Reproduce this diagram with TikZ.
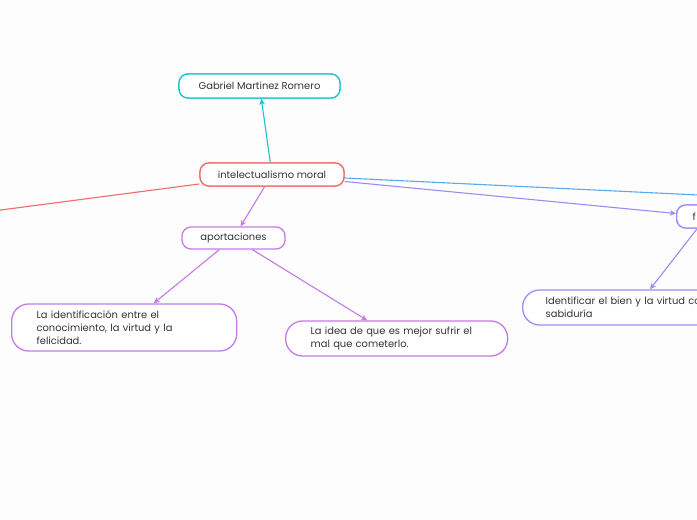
\documentclass[tikz,border=0pt]{standalone}
\usepackage{fontspec}
\setmainfont{Poppins}
\usetikzlibrary{arrows.meta,calc}
\definecolor{bgc}{HTML}{FDFDFD}
\definecolor{cyanc}{HTML}{1BC4CF}
\definecolor{redc}{HTML}{F26A6A}
\definecolor{purc}{HTML}{C47AE8}
\definecolor{perc}{HTML}{9C8CF8}
\definecolor{bluc}{HTML}{58A9F2}
\definecolor{txt}{HTML}{333333}
\tikzset{
  box/.style={draw, line width=1.3pt, rounded corners=9pt, fill=white, text=txt,
    font=\fontsize{9.9}{13}\selectfont, inner sep=0pt},
  big/.style={box, rounded corners=17pt, align=left, anchor=west},
  conn/.style={line width=1.1pt},
  tip/.style={conn, -{Stealth[length=6pt,width=5.5pt,inset=1.5pt]}}
}
\begin{document}
\begin{tikzpicture}[x=1pt,y=-1pt]
\fill[bgc] (0,0) rectangle (697,520);
\useasboundingbox (0,0) rectangle (697,520);
\clip (0,0) rectangle (697,520);

\coordinate (redend) at (-20,212.7);
\coordinate (bluend) at (740,197);

\node[box, draw=cyanc, minimum width=161, minimum height=24] (gab) at (259.5,86) {Gabriel Martinez Romero};
\node[box, draw=redc, minimum width=144, minimum height=23] (intel) at (272,174.5) {intelectualismo moral};
\node[box, draw=purc, minimum width=103, minimum height=22] (apor) at (233.5,238) {aportaciones};
\node[big, draw=purc, minimum width=225, minimum height=47, text width=175, inner xsep=25pt] (left) at (11,327.5)
  {La identificación entre el\\conocimiento, la virtud y la\\felicidad.};
\node[big, draw=purc, minimum width=222, minimum height=35, text width=172, inner xsep=25pt] (mid) at (285,338.5)
  {La idea de que es mejor sufrir el\\mal que cometerlo.};
\node[box, draw=perc, anchor=west, align=left, minimum width=60, minimum height=23, text width=28, inner xsep=16pt] (rt) at (676,216.5) {f};
\node[big, draw=perc, minimum width=260, minimum height=35, text width=214, inner xsep=23pt] (rb) at (522,307.5)
  {Identificar el bien y la virtud co\\sabiduría};

\draw[tip, cyanc] (intel) -- (gab);
\draw[conn, redc] (intel) -- (redend);
\draw[conn, bluc] (intel) -- (bluend);
\draw[tip, perc] (intel) -- ($(rt.west)+(0,-3)$);
\draw[tip, purc] (intel) -- (apor);
\draw[tip, purc] (apor) -- (left);
\draw[tip, purc] (apor) -- (mid);
\draw[tip, perc] (rt) -- ($(rb.north west)+(128,0)$);

% redraw overlapped nodes on top so lines stop at borders
\node[box, draw=cyanc, minimum width=161, minimum height=24] at (gab) {Gabriel Martinez Romero};
\node[box, draw=redc, minimum width=144, minimum height=23] at (intel) {intelectualismo moral};
\node[box, draw=perc, anchor=west, align=left, minimum width=60, minimum height=23, text width=28, inner xsep=16pt] at (rt.west) {f};
\end{tikzpicture}
\end{document}
